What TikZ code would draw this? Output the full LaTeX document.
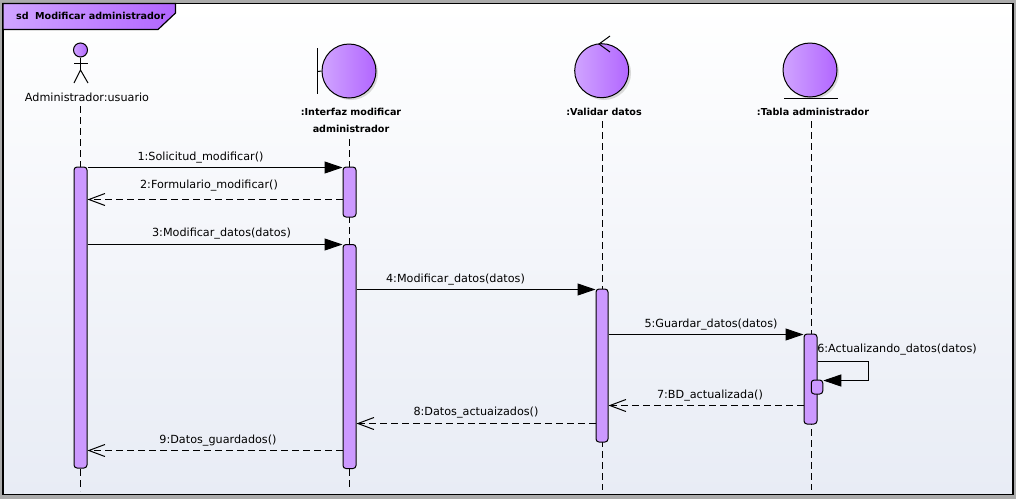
\documentclass[tikz,border=0pt]{standalone}
\usepackage{fontspec}
\setmainfont{DejaVu Sans}
\usetikzlibrary{arrows.meta,calc}
\definecolor{barfill}{HTML}{CC99FF}
\definecolor{gradL}{HTML}{D0A4FF}
\definecolor{gradR}{HTML}{B266FF}
\definecolor{bgtop}{HTML}{FFFFFF}
\definecolor{bgbot}{HTML}{E8ECF5}
\tikzset{
  every node/.style={font=\fontsize{11.2}{13}\selectfont,text=black},
  bold/.style={font=\fontsize{9.6}{17}\bfseries\selectfont,align=center},
  life/.style={draw=black,line width=1pt,dash pattern=on 7pt off 4pt},
  bar/.style={draw=black,line width=1pt,fill=barfill,rounded corners=3pt,inner sep=0pt,minimum width=13pt},
  circ/.style={circle,draw=black,line width=1pt,left color=gradL,right color=gradR,minimum size=54pt,inner sep=0pt},
  syncm/.style={draw=black,line width=1pt,-{Triangle[length=18pt,width=12pt]}},
  retm/.style={draw=black,line width=1pt,dash pattern=on 7pt off 4pt,-{Straight Barb[length=16pt,width=12pt,line width=1pt]}},
  stroke/.style={draw=black,line width=1pt}
}
\begin{document}
\begin{tikzpicture}[x=1pt,y=-1pt]
\useasboundingbox (0,0) rectangle (1021,499);
\fill[white] (0,0) rectangle (1021,499);
\fill[black!33] (0,0) rectangle (1016,499);
\shade[top color=bgtop,bottom color=bgbot,draw=black,line width=1.3pt] (3,3.5) rectangle (1013,494.5);
\draw[line width=1.2pt,left color=gradL,right color=gradR] (3,3.5) -- (175.5,3.5) -- (175.5,13) -- (158,29.5) -- (3,29.5) -- cycle;
\node[font=\fontsize{9.6}{12}\bfseries\selectfont,anchor=west,inner sep=0pt] (title) at (16,15.5) {sd\hspace{3pt} Modificar administrador};

% heads
\node[circle,draw=black,line width=1pt,left color=gradL,right color=gradR,minimum size=14pt,inner sep=0pt] (head) at (80.5,50) {};
\draw[stroke] (head.south) -- (80.5,70) coordinate (hip);
\draw[stroke] (74,63.5) -- (88,63.5);
\draw[stroke] (74,83) -- (hip) -- (88,83);
\node (actor) at (87,97.5) {Administrador:usuario};

\fill[black!15] (351,73) circle (27pt);
\fill[black!15] (604,73) circle (27pt);
\fill[black!15] (812,72) circle (27pt);
\node[circ] (bnd) at (349,71) {};
\draw[stroke] (317.5,48) -- (317.5,94);
\draw[stroke] (317.5,71.5) -- (bnd.west);
\node[bold] (bndl) at (351,120.5) {:Interfaz modificar\\administrador};

\node[circ] (ctl) at (601.7,70.7) {};
\draw[stroke] (610,36) -- (599,44) -- (610,52);
\node[bold] (ctll) at (604,112) {:Validar datos};

\node[circ] (ent) at (810,70) {};
\draw[stroke] (784,98.5) -- (838,98.5);
\node[bold] (entl) at (813,112) {:Tabla administrador};

% lifeline ends
\coordinate (e1) at (80.5,491);
\coordinate (e2) at (349.5,487);
\coordinate (e3) at (602.5,490);
\coordinate (e4) at (811.5,490);
\draw[life] (80.5,106) -- (e1);
\draw[life] (349.5,139) -- (e2);
\draw[life] (602.5,121) -- (e3);
\draw[life] (811.5,121) -- (e4);

% activations
\node[bar,minimum height=301pt] (a1) at (80.5,317.5) {};
\node[bar,minimum height=50pt] (i1) at (349.5,192) {};
\node[bar,minimum height=224pt] (i2) at (349.5,356.5) {};
\node[bar,minimum height=153pt,minimum width=12pt] (v1) at (602,365.5) {};
\node[bar,minimum height=90pt] (t1) at (810.5,379) {};
\node[bar,minimum height=14pt,minimum width=11.5pt] (t2) at (817,387) {};

% messages
\draw[syncm] (a1.east |- 0,167.5) -- (i1.west |- 0,167.5);
\draw[retm] (i1.west |- 0,199.5) -- (a1.east |- 0,199.5);
\draw[syncm] (a1.east |- 0,244.5) -- (i2.west |- 0,244.5);
\draw[syncm] (i2.east |- 0,289.5) -- (v1.west |- 0,289.5);
\draw[syncm] (v1.east |- 0,334.5) -- (t1.west |- 0,334.5);
\draw[stroke,-{Triangle[length=18pt,width=12pt]}] (t1.east |- 0,361.5) -- (868.5,361.5) -- (868.5,380.5) -- (t2.east |- 0,380.5);
\draw[retm] (t1.west |- 0,405.5) -- (v1.east |- 0,405.5);
\draw[retm] (v1.west |- 0,423.5) -- (i2.east |- 0,423.5);
\draw[retm] (i2.west |- 0,450.5) -- (a1.east |- 0,450.5);

% labels
\node (m1) at (200.5,158) {1:Solicitud\_modificar()};
\node (m2) at (209,186) {2:Formulario\_modificar()};
\node (m3) at (221.5,234) {3:Modificar\_datos(datos)};
\node (m4) at (455.5,280) {4:Modificar\_datos(datos)};
\node (m5) at (711,325) {5:Guardar\_datos(datos)};
\node (m6) at (897,350) {6:Actualizando\_datos(datos)};
\node (m7) at (710,396) {7:BD\_actualizada()};
\node (m8) at (476,413) {8:Datos\_actuaizados()};
\node (m9) at (218,441) {9:Datos\_guardados()};
\end{tikzpicture}
\end{document}
